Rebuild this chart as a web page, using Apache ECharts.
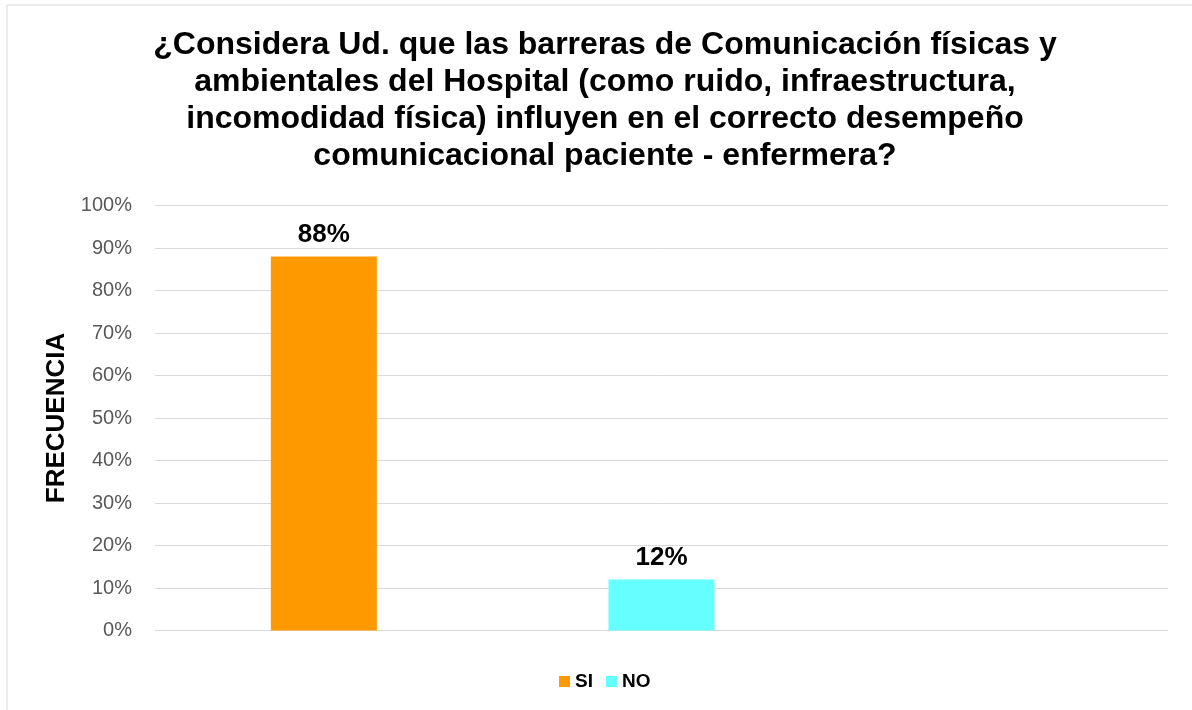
<!DOCTYPE html>
<html><head><meta charset="utf-8">
<script src="https://cdn.jsdelivr.net/npm/echarts@6/dist/echarts.min.js"></script>
<style>html,body{margin:0;padding:0;background:#fff}#c{width:1192px;height:710px}</style>
</head><body><div id="c"></div>
<script>
const categories = ['SI', 'NO', ''];
const seriesNames = ['SI', 'NO'];
const siValues = [88, null, null];
const noValues = [null, 12, null];
const titleText = '¿Considera Ud. que las barreras de Comunicación físicas y\nambientales del Hospital (como ruido, infraestructura,\nincomodidad física) influyen en el correcto desempeño\ncomunicacional paciente - enfermera?';
const yAxisName = 'FRECUENCIA';

const chart = echarts.init(document.getElementById('c'));
const font = '"Liberation Sans", Arial, sans-serif';
const lbl = {show: true, position: 'top', distance: 9, formatter: '{c}%', color: '#000', fontWeight: 'bold', fontSize: 26, fontFamily: font};
chart.setOption({
  animation: false,
  textStyle: {fontFamily: font},
  graphic: [
    {type: 'rect', shape: {x: 7, y: 5, width: 1200, height: 720}, style: {fill: 'none', stroke: '#d9d9d9', lineWidth: 1}, silent: true},
    {type: 'text', x: 57, y: 418, rotation: Math.PI / 2,
      style: {text: yAxisName, fontSize: 26, fontWeight: 'bold', fill: '#000', fontFamily: font, align: 'center', verticalAlign: 'middle'}}
  ],
  title: {text: titleText, left: 600, textAlign: 'center', top: 22,
    textStyle: {fontSize: 32, fontWeight: 'bold', color: '#000', lineHeight: 37, fontFamily: font}},
  legend: {data: seriesNames, bottom: 14, left: 554, icon: 'rect', itemWidth: 11, itemHeight: 11, itemGap: 13,
    textStyle: {fontSize: 19, fontWeight: 'bold', color: '#000', fontFamily: font}},
  grid: {left: 155, right: 24, top: 205.5, bottom: 79.5, containLabel: false},
  xAxis: {type: 'category', data: categories, axisLine: {show: false}, axisTick: {show: false}, axisLabel: {show: false}},
  yAxis: {type: 'value', min: 0, max: 100, interval: 10,
    axisLabel: {formatter: '{value}%', color: '#595959', fontSize: 20, margin: 23, fontFamily: font},
    axisLine: {show: false}, axisTick: {show: false},
    splitLine: {lineStyle: {color: '#d9d9d9', width: 1}}},
  series: [
    {name: 'SI', type: 'bar', stack: 't', barWidth: 106, data: siValues, itemStyle: {color: '#FF9900'}, label: lbl},
    {name: 'NO', type: 'bar', stack: 't', barWidth: 106, data: noValues, itemStyle: {color: '#66FFFF'}, label: lbl}
  ]
});
</script></body></html>
